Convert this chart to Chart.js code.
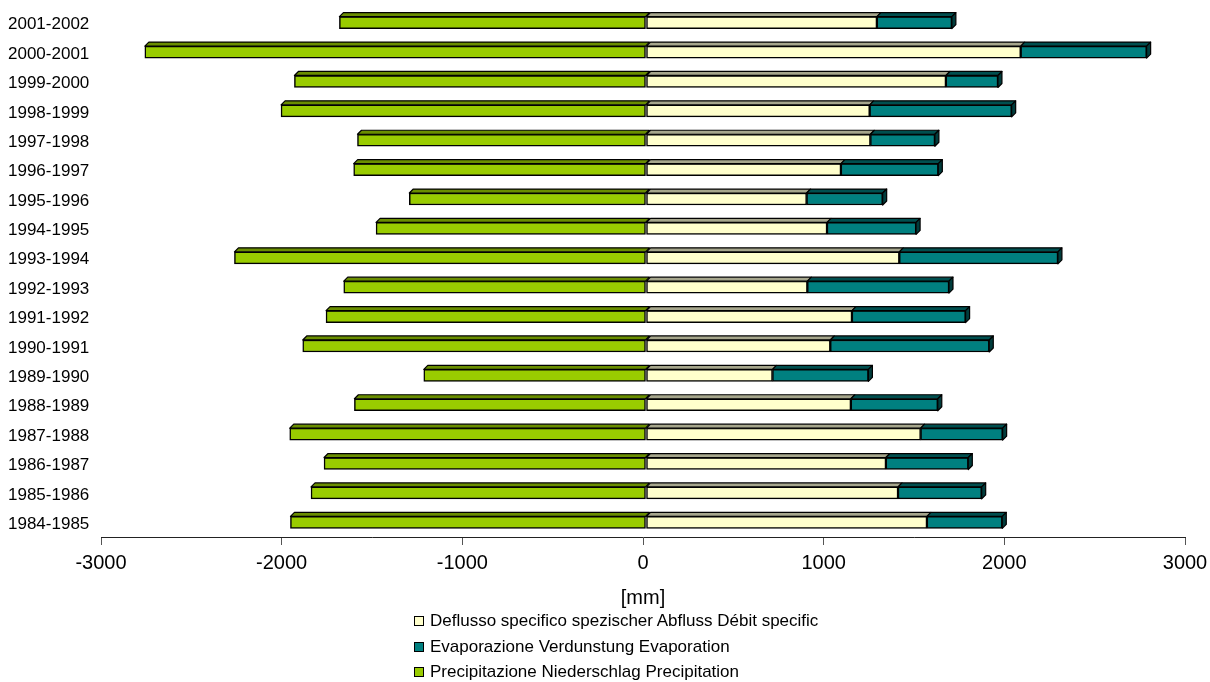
<!DOCTYPE html>
<html>
<head>
<meta charset="utf-8">
<script src="https://cdn.jsdelivr.net/npm/chart.js@4/dist/chart.umd.min.js"></script>
<style>
  html, body { margin: 0; padding: 0; background: #fff; }
  #wrap { position: relative; width: 1210px; height: 682px; }
  canvas { position: absolute; left: 0; top: 0; }
  .lg { position: absolute; left: 414px; height: 20px; line-height: 20px;
        font: 17px "Liberation Sans", Arial, sans-serif; color: #000; white-space: nowrap; }
  .lg .box { position: absolute; left: 0; top: 5px; width: 10px; height: 10px;
             box-sizing: border-box; border: 1px solid #000; }
  .lg .txt { position: absolute; left: 16px; top: 0; }
</style>
</head>
<body>
<div id="wrap">
  <canvas id="c" width="1210" height="682"></canvas>
  <div id="legend"></div>
</div>
<script>
// ---- data (chronological) ----
const years = ['1984-1985','1985-1986','1986-1987','1987-1988','1988-1989','1989-1990',
               '1990-1991','1991-1992','1992-1993','1993-1994','1994-1995','1995-1996',
               '1996-1997','1997-1998','1998-1999','1999-2000','2000-2001','2001-2002'];
const deflusso = [1555, 1395, 1328, 1520, 1134, 700, 1020, 1140, 893, 1402, 1002, 889,
                  1079, 1242, 1238, 1660, 2074, 1278];
const evaporazione = [417, 463, 456, 454, 481, 531, 880, 629, 784, 878, 493, 421,
                      539, 357, 786, 288, 697, 415];
const precipitazione = [-1968, -1854, -1782, -1972, -1614, -1230, -1900, -1771, -1673, -2278, -1494, -1310,
                        -1618, -1597, -2020, -1946, -2774, -1697];
const xTicks = [-3000, -2000, -1000, 0, 1000, 2000, 3000];
const seriesNames = ['Deflusso specifico spezischer Abfluss Débit specific',
                     'Evaporazione Verdunstung Evaporation',
                     'Precipitazione Niederschlag Precipitation'];

const FONT = '"Liberation Sans", Arial, sans-serif';
const DEPTH = 4;
const SHIFT = 3;

const bar3d = {
  id: 'bar3d',
  beforeDatasetsDraw(chart) { chart.ctx.save(); chart.ctx.translate(SHIFT, 0); },
  afterDatasetsDraw(chart) {
    const ctx = chart.ctx;
    const d = DEPTH;
    chart.data.datasets.forEach((ds, di) => {
      const meta = chart.getDatasetMeta(di);
      if (meta.hidden) return;
      meta.data.forEach((el) => {
        const p = el.getProps(['x', 'y', 'base', 'height'], true);
        const l = Math.min(p.x, p.base), r = Math.max(p.x, p.base);
        const t = p.y - p.height / 2, b = p.y + p.height / 2;
        ctx.lineWidth = 1.2;
        ctx.strokeStyle = '#000';
        ctx.lineJoin = 'round';
        ctx.beginPath();
        ctx.moveTo(l, t); ctx.lineTo(l + d, t - d); ctx.lineTo(r + d, t - d); ctx.lineTo(r, t);
        ctx.closePath();
        ctx.fillStyle = ds.topColor; ctx.fill(); ctx.stroke();
        if (ds.sideColor) {
          ctx.beginPath();
          ctx.moveTo(r, t); ctx.lineTo(r + d, t - d); ctx.lineTo(r + d, b - d); ctx.lineTo(r, b);
          ctx.closePath();
          ctx.fillStyle = ds.sideColor; ctx.fill(); ctx.stroke();
        }
      });
    });
    ctx.restore();
  }
};

const colors = ['#FFFFCC', '#008080', '#99CC00'];
const tops = ['#A6A68C', '#004F4F', '#6A8E00'];

const chart = new Chart(document.getElementById('c'), {
  type: 'bar',
  data: {
    labels: years,
    datasets: [
      { label: seriesNames[0], data: deflusso, backgroundColor: colors[0], topColor: tops[0],
        borderColor: '#000', borderWidth: 1.5, borderSkipped: false, barThickness: 12 },
      { label: seriesNames[1], data: evaporazione, backgroundColor: colors[1], topColor: tops[1], sideColor: '#003C3C',
        borderColor: '#000', borderWidth: 1.5, borderSkipped: false, barThickness: 12 },
      { label: seriesNames[2], data: precipitazione, backgroundColor: colors[2], topColor: tops[2],
        borderColor: '#000', borderWidth: 1.5, borderSkipped: false, barThickness: 12 }
    ]
  },
  options: {
    indexAxis: 'y',
    responsive: false,
    animation: false,
    layout: { padding: { left: 8, right: 25, top: 8, bottom: 68 } },
    plugins: {
      legend: { display: false },
      tooltip: { enabled: false }
    },
    scales: {
      x: {
        stacked: true,
        min: -3000, max: 3000,
        afterBuildTicks(scale) { scale.ticks = xTicks.map(v => ({ value: v })); },
        afterFit(scale) { scale.paddingLeft = 0; scale.paddingRight = 0; },
        grid: { display: true, drawOnChartArea: false, drawTicks: true, tickLength: 8, color: '#555', lineWidth: 1 },
        border: { display: true, color: '#222', width: 1 },
        ticks: { color: '#000', font: { family: FONT, size: 20 }, padding: 6, maxRotation: 0,
                 callback: (v) => String(v) },
        title: { display: true, text: '[mm]', color: '#000', font: { family: FONT, size: 20 },
                 padding: { top: 5, bottom: 4 } }
      },
      y: {
        stacked: true,
        reverse: true,
        grid: { display: false, drawTicks: false },
        border: { display: false },
        ticks: { color: '#000', font: { family: FONT, size: 17 }, crossAlign: 'far', padding: 6, labelOffset: 2 },
        afterFit(scale) { scale.width = 93; scale.paddingTop = 0; scale.paddingBottom = 0; }
      }
    }
  },
  plugins: [bar3d]
});

// HTML legend (vertical list, as in the reference)
const legendTops = [611, 636.5, 662];
const lg = document.getElementById('legend');
seriesNames.forEach((name, i) => {
  const row = document.createElement('div');
  row.className = 'lg';
  row.style.top = legendTops[i] + 'px';
  const box = document.createElement('span');
  box.className = 'box';
  box.style.background = colors[i];
  const txt = document.createElement('span');
  txt.className = 'txt';
  txt.textContent = name;
  row.appendChild(box); row.appendChild(txt);
  lg.appendChild(row);
});
</script>
</body>
</html>
